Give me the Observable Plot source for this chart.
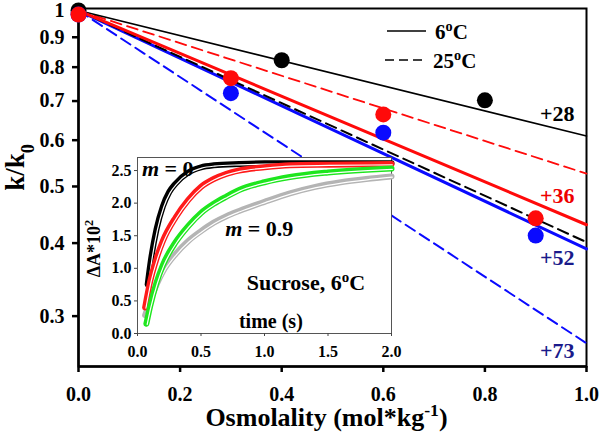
<!DOCTYPE html>
<html><head><meta charset="utf-8">
<script src="https://cdn.jsdelivr.net/npm/d3@7"></script>
<script src="https://cdn.jsdelivr.net/npm/@observablehq/plot@0.6"></script>
<style>
body{margin:0;background:#fff}
#wrap{position:relative;width:601px;height:440px;background:#fff;overflow:hidden}
#wrap > svg{position:absolute}
</style></head><body><div id="wrap"></div>
<script>
// ---------- main chart data ----------
const xTicks = [0, 0.2, 0.4, 0.6, 0.8, 1.0];
const yTicks = [0.3, 0.4, 0.5, 0.6, 0.7, 0.8, 0.9, 1];
const yDomain = [0.246, 1.008];
const groups = ["black", "red", "blue"];
const fitX = [0, 1];
const fitStart = 1;
const fitEnd6 = [0.610, 0.430, 0.391];   // k/k0 at 1.0 mol/kg, 6 °C
const fitEnd25 = [0.4015, 0.526, 0.2696]; // k/k0 at 1.0 mol/kg, 25 °C
const blackPtsX = [0, 0.4, 0.8];
const blackPtsY = [1.0, 0.822, 0.702];
const redPtsX = [0, 0.3, 0.6, 0.9];
const redPtsY = [0.984, 0.766, 0.664, 0.441];
const bluePtsX = [0, 0.3, 0.6, 0.9];
const bluePtsY = [0.984, 0.722, 0.618, 0.412];
const endLabels = ["+28", "+36", "+52", "+73"];
const endLabelY = [0.665, 0.482, 0.377, 0.2615];
const legendLabels = ["6{sup:o}C", "25{sup:o}C"];

// ---------- inset data ----------
const insetXTicks = [0, 0.5, 1.0, 1.5, 2.0];
const insetYTicks = [0, 0.5, 1.0, 1.5, 2.0, 2.5];
const tBlack = [0.08,0.1,0.15,0.2,0.25,0.3,0.4,0.5,0.6,0.8,1.0,1.5,2.0];
const aBlack = [0.75,1.05,1.6,1.95,2.17,2.3,2.47,2.55,2.58,2.6,2.61,2.61,2.61];
const tRed = [0.06,0.1,0.15,0.2,0.3,0.4,0.5,0.6,0.7,0.8,1.0,1.2,1.5,2.0];
const aRed = [0.4,0.8,1.15,1.42,1.78,2.05,2.25,2.37,2.45,2.5,2.55,2.58,2.59,2.6];
const tGreen = [0.07,0.1,0.15,0.2,0.3,0.4,0.5,0.6,0.7,0.8,1.0,1.2,1.5,2.0];
const aGreen = [0.15,0.42,0.78,1.05,1.4,1.65,1.85,1.99,2.1,2.2,2.32,2.4,2.47,2.53];
const tGray = [0.06,0.1,0.15,0.2,0.3,0.4,0.5,0.6,0.7,0.8,1.0,1.2,1.4,1.6,1.8,2.0];
const aGray = [0.28,0.5,0.75,0.95,1.22,1.42,1.57,1.7,1.8,1.88,2.02,2.15,2.25,2.32,2.37,2.41];
const insetNotes = ["{i:m} = 0", "{i:m} = 0.9", "Sucrose, 6{sup:o}C"];
const noteT = [0.035, 0.69, 0.86];
const noteA = [2.52, 1.61, 0.78];
const insetXLabel = "time (s)";
const insetXLabelT = 1.05;
const insetXLabelA = 0.18;

// ---------- build tables ----------
const fits = [];
groups.forEach((g, i) => {
  fitX.forEach((x, j) => fits.push({g, temp: "6", x, y: j === 0 ? fitStart : fitEnd6[i]}));
  fitX.forEach((x, j) => fits.push({g, temp: "25", x, y: j === 0 ? fitStart : fitEnd25[i]}));
});
const pts = [
  ...blackPtsX.map((x, i) => ({g: "black", x, y: blackPtsY[i]})),
  ...bluePtsX.map((x, i) => ({g: "blue", x, y: bluePtsY[i]})),
  ...redPtsX.map((x, i) => ({g: "red", x, y: redPtsY[i]}))
];
const labels = endLabels.map((t, i) => ({t, y: endLabelY[i], i}));

const C = {black: "#000", red: "#ff0a0a", blue: "#0a0aff"};
const labelColor = ["#000", "#ee0000", "#1a1a8a", "#1a1a8a"];
const lineStyles = [
  ["blue", "25", 2, "11,6"],
  ["red", "25", 1.8, "11,6"],
  ["black", "6", 1.6, null],
  ["blue", "6", 3, null],
  ["black", "25", 2, "11,6"],
  ["red", "6", 3, null]
];

const serif = "'Liberation Serif', 'Times New Roman', serif";

const main = Plot.plot({
  width: 601, height: 440,
  marginLeft: 78, marginRight: 15, marginTop: 8, marginBottom: 74,
  style: {fontFamily: serif, fontWeight: "bold", background: "transparent", overflow: "visible", color: "#000"},
  x: {domain: [0, 1]},
  y: {type: "log", domain: yDomain},
  marks: [
    Plot.frame({stroke: "#000", strokeWidth: 2}),
    Plot.axisX({ticks: xTicks, tickFormat: d3.format(".1f"), tickSize: 6, tickPadding: 14, strokeWidth: 2.5, fontSize: 20, label: null}),
    Plot.axisY({ticks: yTicks, tickFormat: d => d === 1 ? "1" : d.toFixed(1), tickSize: 6, tickPadding: 8, strokeWidth: 2.5, fontSize: 20, label: null}),
    Plot.ruleX([0], {strokeWidth: 2.5}),
    Plot.ruleY([yDomain[0]], {strokeWidth: 2.5}),
    ...lineStyles.map(([g, temp, w, dash]) =>
      Plot.line(fits.filter(d => d.g === g && d.temp === temp), {x: "x", y: "y", stroke: C[g], strokeWidth: w, strokeDasharray: dash})),
    Plot.dot(pts, {x: "x", y: "y", r: 8, fill: d => C[d.g], stroke: "none"}),
    Plot.text(labels, {x: 1, y: "y", text: "t", dx: -12, textAnchor: "end", fontSize: 22, fill: d => labelColor[d.i]}),
    Plot.text(["k/k{sub:0}"], {frameAnchor: "left", textAnchor: "middle", rotate: -90, dx: -63, dy: -20, fontSize: 27, text: d => d}),
    Plot.text(["Osmolality (mol*kg{sup:-1})"], {frameAnchor: "bottom", lineAnchor: "middle", dy: 51, dx: -6, fontSize: 26, text: d => d})
  ]
});

// legend (inside the plot area, top right)
const lg = d3.select(main).append("g").attr("font-family", serif).attr("font-weight", "bold")
  .attr("font-size", 21).attr("text-anchor", "start");
legendLabels.forEach((lab, i) => {
  const y = 31 + i * 29;
  lg.append("line").attr("x1", 387 - i * 2).attr("x2", 426 - i * 3).attr("y1", y).attr("y2", y)
    .attr("stroke", "#000").attr("stroke-width", 1.7).attr("stroke-dasharray", i ? "9,5" : null);
  lg.append("text").attr("x", 435 - i * 2).attr("y", y + 8).attr("fill", "#000").text(lab);
});

// ---------- inset ----------
const series = [
  {t: tGray, a: aGray, c: "#b4b4b4"},
  {t: tBlack, a: aBlack, c: "#000"},
  {t: tRed, a: aRed, c: "#ff1a1a"},
  {t: tGreen, a: aGreen, c: "#1ee61e"}
];
const insetMarks = [];
for (const s of series) {
  const rows = s.t.map((t, i) => ({t, a: s.a[i]}));
  insetMarks.push(Plot.line(rows, {x: "t", y: "a", stroke: s.c, strokeWidth: 6, curve: "monotone-x"}));
  insetMarks.push(Plot.line(rows, {x: "t", y: "a", stroke: "#fff", strokeWidth: 1.2, dx: 0.8, dy: 0.8, curve: "monotone-x"}));
}
const notes = insetNotes.map((n, i) => ({n, t: noteT[i], a: noteA[i]}));

const inset = Plot.plot({
  width: 325, height: 215,
  marginLeft: 57, marginRight: 14, marginTop: 7, marginBottom: 32,
  style: {fontFamily: serif, fontWeight: "bold", background: "transparent", overflow: "visible", color: "#000"},
  x: {domain: [0, 2]},
  y: {domain: [0, 2.7]},
  marks: [
    Plot.frame({fill: "#fff", stroke: "#555", strokeWidth: 1}),
    Plot.axisX({ticks: insetXTicks, tickFormat: d3.format(".1f"), tickSize: 3, tickPadding: 9, fontSize: 16, label: null, stroke: "#444"}),
    Plot.axisY({ticks: insetYTicks, tickFormat: d3.format(".1f"), tickSize: 3, tickPadding: 3, fontSize: 16, label: null, stroke: "#444"}),
    ...insetMarks,
    Plot.text(notes, {x: "t", y: "a", text: "n", textAnchor: "start", fontSize: 22}),
    Plot.text([insetXLabel], {x: insetXLabelT, y: insetXLabelA, text: d => d, textAnchor: "middle", fontSize: 20}),
    Plot.text(["ΔA*10{sup:2}"], {frameAnchor: "left", textAnchor: "middle", rotate: -90, dx: -43, dy: 3, fontSize: 18, text: d => d})
  ]
});
inset.style.left = "80px";
inset.style.top = "150px";
main.style.left = "0px";
main.style.top = "0px";

// ---------- rich text (sub/superscripts, italics) ----------
function rich(svg) {
  d3.select(svg).selectAll("text").each(function () {
    const el = this;
    const s = el.textContent;
    if (!/\{(sup|sub|i):/.test(s)) return;
    const parts = s.split(/(\{(?:sup|sub|i):[^}]*\})/);
    while (el.firstChild) el.removeChild(el.firstChild);
    for (const p of parts) {
      if (!p) continue;
      const m = p.match(/^\{(sup|sub|i):([^}]*)\}$/);
      const t = document.createElementNS("http://www.w3.org/2000/svg", "tspan");
      if (m) {
        t.textContent = m[2];
        if (m[1] === "sup") { t.setAttribute("baseline-shift", "super"); t.setAttribute("font-size", "0.68em"); }
        else if (m[1] === "sub") { t.setAttribute("baseline-shift", "sub"); t.setAttribute("font-size", "0.68em"); }
        else t.setAttribute("font-style", "italic");
      } else t.textContent = p;
      el.appendChild(t);
    }
  });
}
rich(main);
rich(inset);

const wrap = document.getElementById("wrap");
wrap.appendChild(main);
wrap.appendChild(inset);
</script></body></html>
